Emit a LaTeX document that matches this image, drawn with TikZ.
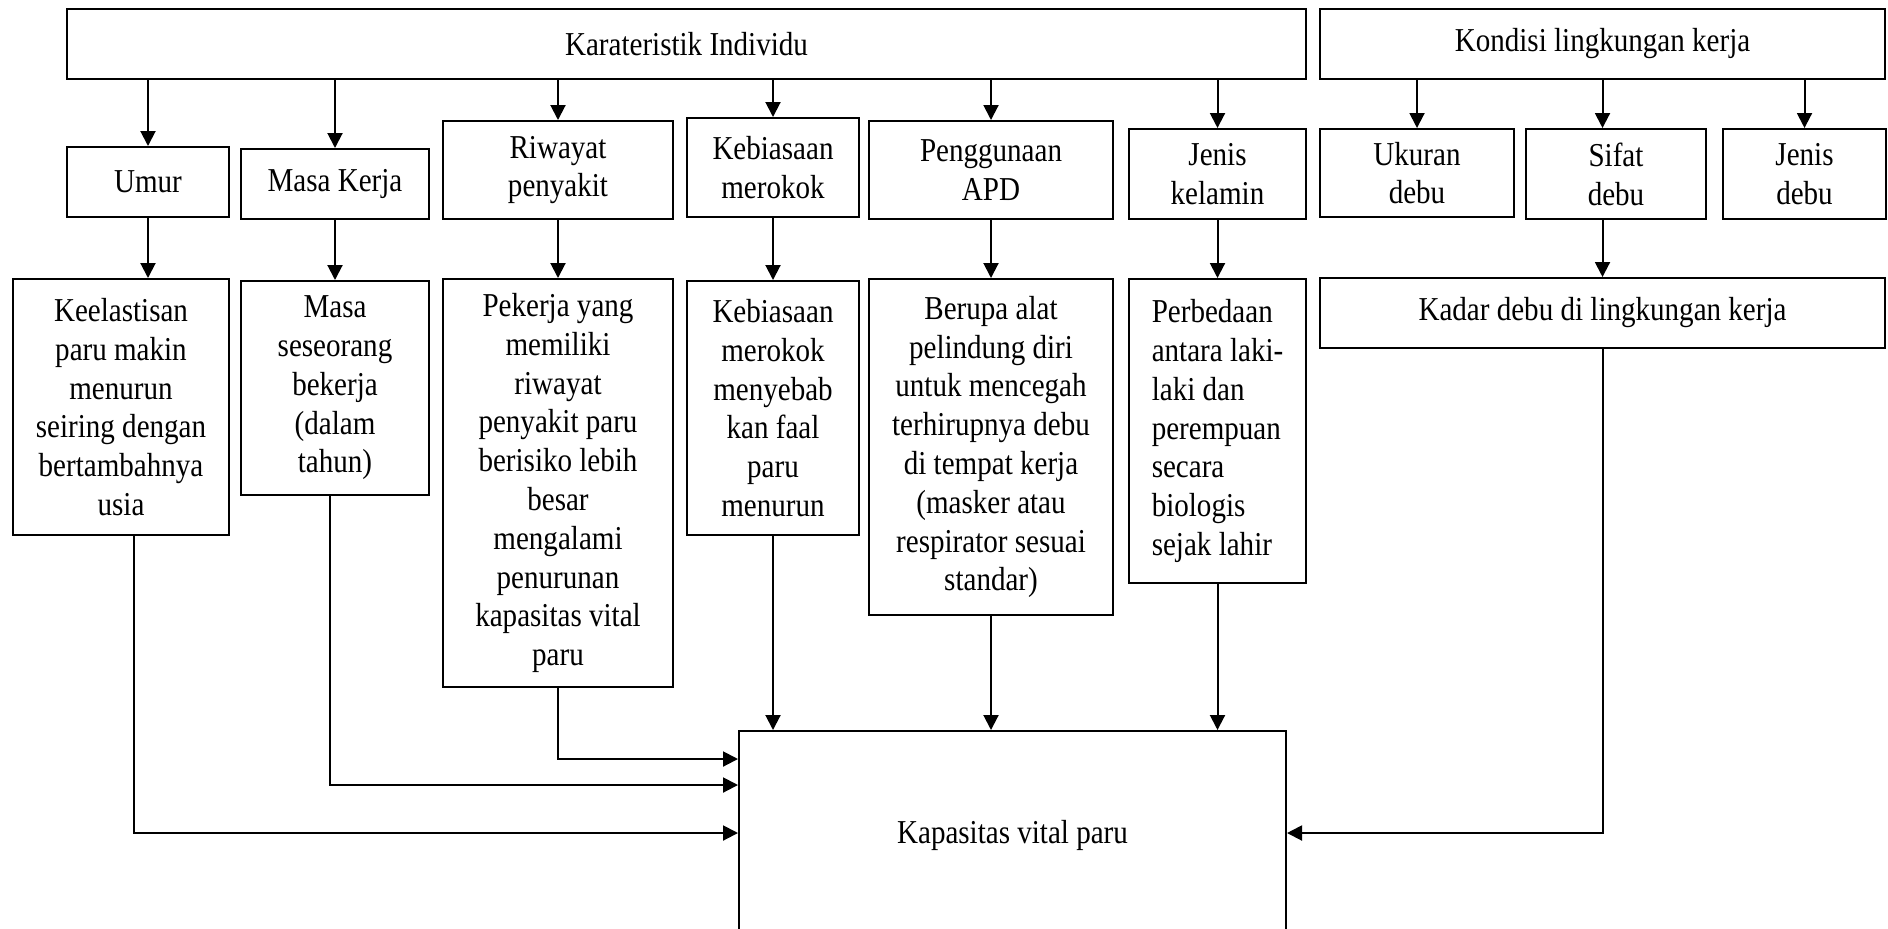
\documentclass[tikz,border=0pt]{standalone}
\usepackage{fontspec}
\setmainfont{Liberation Serif}[FakeStretch=0.87]
\usetikzlibrary{arrows.meta}
\def\px{0.5pt}
\begin{document}
\begin{tikzpicture}[x=0.5pt,y=-0.5pt,
  kotak/.style={draw,line width=1pt,inner sep=0pt,align=center,fill=white},
  sz/.style 2 args={minimum width=#1*\px,minimum height=#2*\px},
  panah/.style={line width=1pt,-{Triangle[length=7.5pt,width=7.5pt]}},
  garis/.style={line width=1pt}]
\fontsize{16.7}{19.4}\selectfont
\useasboundingbox (0,0) rectangle (1888,928);
% baris atas
\node[kotak,sz={1239}{70}] (indiv) at (686.5,44) {Karateristik Individu};
\node[kotak,sz={565}{70}] (kondisi) at (1602.5,44) {Kondisi lingkungan kerja};
% faktor
\node[kotak,sz={162}{70}] (umur) at (148,182) {Umur};
\node[kotak,sz={188}{70}] (masa) at (335,184) {Masa Kerja};
\node[kotak,sz={230}{98}] (riwayat) at (558,170) {Riwayat\\penyakit};
\node[kotak,sz={172}{99}] (rokok) at (773,167.5) {Kebiasaan\\merokok};
\node[kotak,sz={244}{98}] (apd) at (991,170) {Penggunaan\\APD};
\node[kotak,sz={177}{90}] (kelamin) at (1217.5,174) {Jenis\\kelamin};
\node[kotak,sz={194}{88}] (ukuran) at (1417,173) {Ukuran\\debu};
\node[kotak,sz={180}{90}] (sifat) at (1616,174) {Sifat\\debu};
\node[kotak,sz={163}{90}] (jenisdebu) at (1804.5,174) {Jenis\\debu};
% keterangan
\node[kotak,sz={216}{256}] (keel) at (121,407) {Keelastisan\\paru makin\\menurun\\seiring dengan\\bertambahnya\\usia};
\node[kotak,sz={188}{214}] (masaket) at (335,388) {Masa\\seseorang\\bekerja\\(dalam\\tahun)};
\node[kotak,sz={230}{408}] (pekerja) at (558,483) {Pekerja yang\\memiliki\\riwayat\\penyakit paru\\berisiko lebih\\besar\\mengalami\\penurunan\\kapasitas vital\\paru};
\node[kotak,sz={172}{254}] (rokokket) at (773,408) {Kebiasaan\\merokok\\menyebab\\kan faal\\paru\\menurun};
\node[kotak,sz={244}{336}] (berupa) at (991,447) {Berupa alat\\pelindung diri\\untuk mencegah\\terhirupnya debu\\di tempat kerja\\(masker atau\\respirator sesuai\\standar)};
\node[kotak,align=left,sz={177}{304}] (beda) at (1217.5,431) {Perbedaan\\antara laki-\\laki dan\\perempuan\\secara\\biologis\\sejak lahir};
\node[kotak,sz={565}{70}] (kadar) at (1602.5,313) {Kadar debu di lingkungan kerja};
\node[kotak,sz={547}{209}] (kvp) at (1012.5,835.5) {Kapasitas vital paru};
% panah dari atas
\foreach \n in {umur,masa,riwayat,rokok,apd,kelamin}
  \draw[panah] (\n.north |- indiv.south) -- (\n.north);
\foreach \n in {ukuran,jenisdebu}
  \draw[panah] (\n.north |- kondisi.south) -- (\n.north);
\draw[panah] (kondisi.south) -- (kondisi.south |- sifat.north);
\draw[panah] (umur.south) -- (umur.south |- keel.north);
\draw[panah] (masa.south) -- (masaket.north);
\draw[panah] (riwayat.south) -- (pekerja.north);
\draw[panah] (rokok.south) -- (rokokket.north);
\draw[panah] (apd.south) -- (berupa.north);
\draw[panah] (kelamin.south) -- (beda.north);
\draw[panah] (kadar.north |- sifat.south) -- (kadar.north);
% ke kapasitas vital paru
\coordinate (m1) at ([yshift=-14.5pt]kvp.north west);
\coordinate (m2) at ([yshift=-27.5pt]kvp.north west);
\coordinate (m3) at ([yshift=-51.5pt]kvp.north west);
\coordinate (m4) at ([yshift=-51.5pt]kvp.north east);
\draw[panah] (pekerja.south) |- (m1);
\draw[panah] ([xshift=-2.5pt]masaket.south) |- (m2);
\draw[panah] ([xshift=6.5pt]keel.south) |- (m3);
\draw[panah] (kadar.south) |- (m4);
\foreach \n in {rokokket,berupa,beda}
  \draw[panah] (\n.south) -- (\n.south |- kvp.north);
\end{tikzpicture}
\end{document}
